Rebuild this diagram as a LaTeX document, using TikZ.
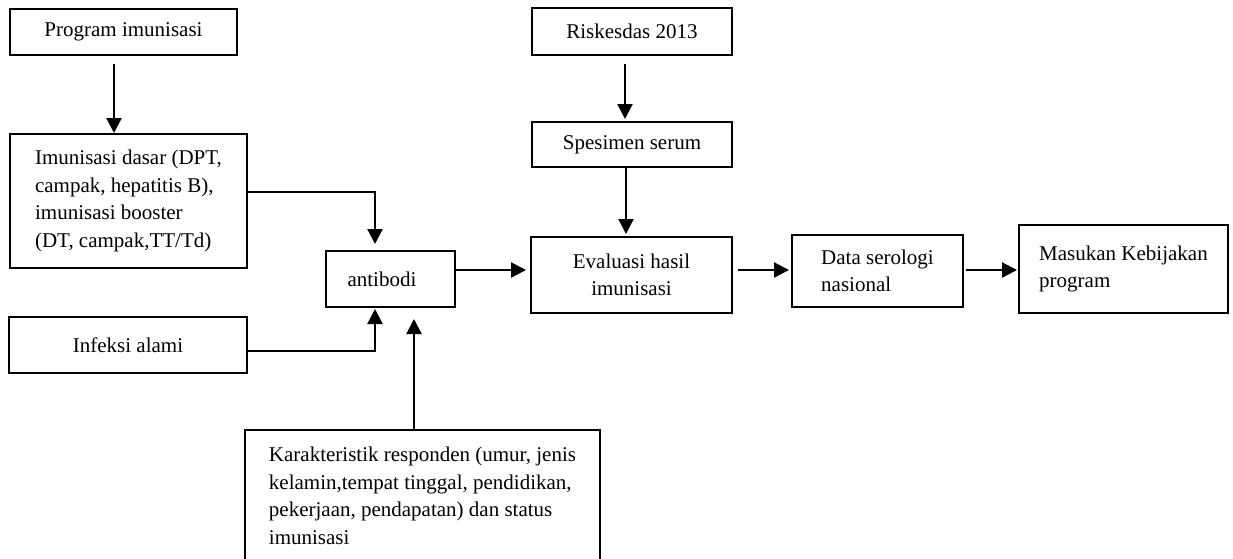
\documentclass[tikz,border=0pt]{standalone}
\usepackage{fontspec}
\setmainfont{Liberation Serif}
\usetikzlibrary{arrows.meta,positioning}

\begin{document}
\begin{tikzpicture}[x=1pt,y=-1pt,node distance=113pt,
	box/.style={draw,rectangle,line width=2pt,inner sep=0pt,font=\fontsize{21}{27.5}\selectfont},
	arr/.style={-{Triangle[length=15pt,width=15pt]},line width=2.2pt}]
\useasboundingbox (0,0) rectangle (1233,558);
\node[box,minimum width=227pt,minimum height=46pt]		(program)	at (123.5,31.5)	{Program imunisasi};
\node[box,minimum width=237pt,minimum height=134pt,align=left]	(dasar)		at (128.5,201)	{Imunisasi dasar (DPT,\\campak, hepatitis B),\\imunisasi booster\\(DT, campak,TT/Td)};
\node[box,minimum width=238pt,minimum height=56pt]		(infeksi)	at (128,345)	{Infeksi alami};
\node[box,minimum width=129pt,minimum height=56pt,text width=86pt,align=left]	(antibodi)	at (390.5,279)	{antibodi};
\node[box,minimum width=355pt,minimum height=132pt,align=left]	(karakter)	at (422.5,496)	{Karakteristik responden (umur, jenis\\kelamin,tempat tinggal, pendidikan,\\pekerjaan, pendapatan) dan status\\imunisasi};
\node[box,minimum width=200pt,minimum height=47pt]		(riskesdas)	at (632,31.5)	{Riskesdas 2013};
\node[box,minimum width=200pt,minimum height=45pt]		(spesimen)	[below of=riskesdas]	{Spesimen serum};
\node[box,minimum width=201pt,minimum height=76pt,align=center]	(evaluasi)	at (631.5,275)	{Evaluasi hasil\\imunisasi};
\node[box,minimum width=171pt,minimum height=72pt,align=left]	(data)		at (877.5,271)	{Data serologi\\nasional};
\node[box,minimum width=209pt,minimum height=88pt,align=left]	(masukan)	at (1123.5,269)	{Masukan Kebijakan\\program};
\coordinate (tip) at ([xshift=23.5pt,yshift=-11pt]antibodi.south);

\draw[arr,shorten <=8pt]	([xshift=-9.5pt]program.south)	-- ([xshift=-9.5pt]program.south |- dasar.north);
\draw[arr]	([yshift=9pt]dasar.east)	-| ([xshift=-15.5pt,yshift=6pt]antibodi.north);
\draw[arr]	([yshift=-6pt]infeksi.east)	-| ([xshift=-15.5pt,yshift=-1pt]antibodi.south);
\draw[arr]	(tip |- karakter.north)	-- (tip);
\draw[arr,shorten <=8pt]	([xshift=-7pt]riskesdas.south)	-- ([xshift=-7pt,yshift=2pt]riskesdas.south |- spesimen.north);
\draw[arr]	([xshift=-6pt]spesimen.south)	-- ([xshift=-6pt,yshift=2pt]spesimen.south |- evaluasi.north);
\draw[arr]	([yshift=9pt]antibodi.east)	-- ([xshift=-4pt,yshift=5pt]evaluasi.west);
\draw[arr,shorten <=5pt]	([yshift=5pt]evaluasi.east)	-- ([xshift=-2pt,yshift=1pt]data.west);
\draw[arr,shorten <=2pt]	([yshift=1pt]data.east)	-- ([xshift=-1pt,yshift=-1pt]masukan.west);
\end{tikzpicture}
\end{document}
